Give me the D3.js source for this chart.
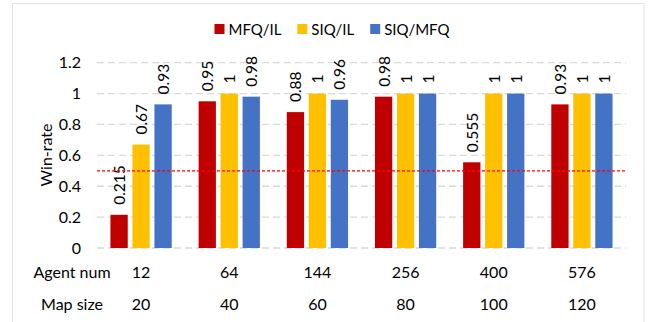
<!DOCTYPE html>
<html><head><meta charset="utf-8">
<script src="https://cdnjs.cloudflare.com/ajax/libs/d3/7.8.5/d3.min.js"></script>
<style>
html,body{margin:0;padding:0;background:#fff;}
svg text{font-family:Lato,"Liberation Sans",sans-serif;fill:#000;}
</style></head>
<body><svg id="c" width="653" height="322"></svg>
<script>
const agentNum = ["12","64","144","256","400","576"];
const mapSize = ["20","40","60","80","100","120"];
const seriesNames = ["MFQ/IL","SIQ/IL","SIQ/MFQ"];
const seriesColors = ["#C00000","#FFC000","#4472C4"];
const mfqIL = [0.215,0.95,0.88,0.98,0.555,0.93];
const siqIL = [0.67,1,1,1,1,1];
const siqMFQ = [0.93,0.98,0.96,1,1,1];
const yTicks = [0,0.2,0.4,0.6,0.8,1,1.2];
const threshold = 0.5;

const series = [mfqIL, siqIL, siqMFQ];
const svg = d3.select("#c");
const FS = 16;

// outer border
svg.append("rect").attr("x",12.5).attr("y",3.5).attr("width",631.5).attr("height",340)
  .attr("fill","none").attr("stroke","#e3e3e3").attr("stroke-width",1);

const x0 = d3.scaleBand().domain(agentNum).range([97,626]).paddingInner(0.305).paddingOuter(0.1525);
const x1 = d3.scaleBand().domain(d3.range(3)).range([0,x0.bandwidth()]).paddingInner(0.2136).paddingOuter(0);
const y = d3.scaleLinear().domain([0,1.2]).range([248,62.7]);

// gridlines
svg.append("g").selectAll("line").data(yTicks).join("line")
  .attr("x1",97).attr("x2",626).attr("y1",d=>y(d)).attr("y2",d=>y(d))
  .attr("stroke","#d9d9d9").attr("stroke-width",1.3).attr("stroke-dasharray","7,4");

// y tick labels via axis
const yAxis = svg.append("g").attr("transform","translate(86,0)")
  .call(d3.axisLeft(y).tickValues(yTicks).tickFormat(d=>String(+d.toFixed(1))).tickSize(0).tickPadding(5));
yAxis.select(".domain").remove();
yAxis.selectAll("text").style("font-family","Lato, sans-serif").style("font-size",FS+"px").attr("fill","#000");

// bars
const groups = svg.append("g").selectAll("g").data(agentNum).join("g")
  .attr("transform",d=>`translate(${x0(d)},0)`);
groups.each(function(cat,i){
  const g = d3.select(this);
  series.forEach((s,k)=>{
    const v = s[i];
    g.append("rect").attr("x",x1(k)).attr("width",x1.bandwidth())
      .attr("y",y(v)).attr("height",y(0)-y(v)).attr("fill",seriesColors[k]);
    const cx = x1(k)+x1.bandwidth()/2;
    const ty = y(v)-10;
    g.append("text").attr("transform",`translate(${cx},${ty}) rotate(-90)`)
      .attr("text-anchor","start").attr("dominant-baseline","central")
      .style("font-size",(FS-0.5)+"px").text(String(v));
  });
});

// threshold line
svg.append("line").attr("x1",97).attr("x2",627).attr("y1",y(threshold)).attr("y2",y(threshold))
  .attr("stroke","#FF0000").attr("stroke-width",1.2).attr("stroke-dasharray","3,2");

// category rows
const rowY = [271,303];
const rowLabels = ["Agent num","Map size"];
[agentNum,mapSize].forEach((arr,r)=>{
  svg.append("text").attr("x",72).attr("y",rowY[r]).attr("text-anchor","middle")
    .attr("dominant-baseline","central").style("font-size",FS+"px").text(rowLabels[r]);
  svg.append("g").selectAll("text").data(arr).join("text")
    .attr("x",(d,i)=>x0(agentNum[i])+x0.bandwidth()/2).attr("y",rowY[r])
    .attr("text-anchor","middle").attr("dominant-baseline","central")
    .style("font-size",FS+"px").text(d=>d);
});

// y title
svg.append("text").attr("transform",`translate(45,155) rotate(-90)`).attr("text-anchor","middle")
  .attr("dominant-baseline","central").style("font-size",FS+"px").text("Win-rate");

// legend
const leg = svg.append("g");
let lx = 0;
seriesNames.forEach((n,k)=>{
  const it = leg.append("g").attr("transform",`translate(${lx},0)`);
  it.append("rect").attr("x",0).attr("y",-5).attr("width",10).attr("height",10).attr("fill",seriesColors[k]);
  const t = it.append("text").attr("x",14).attr("y",0).attr("dominant-baseline","central")
    .style("font-size","15px").text(n);
  lx += 14 + t.node().getComputedTextLength() + 16;
});
const totalW = lx - 16;
leg.attr("transform",`translate(${332-totalW/2},29)`);
</script></body></html>
